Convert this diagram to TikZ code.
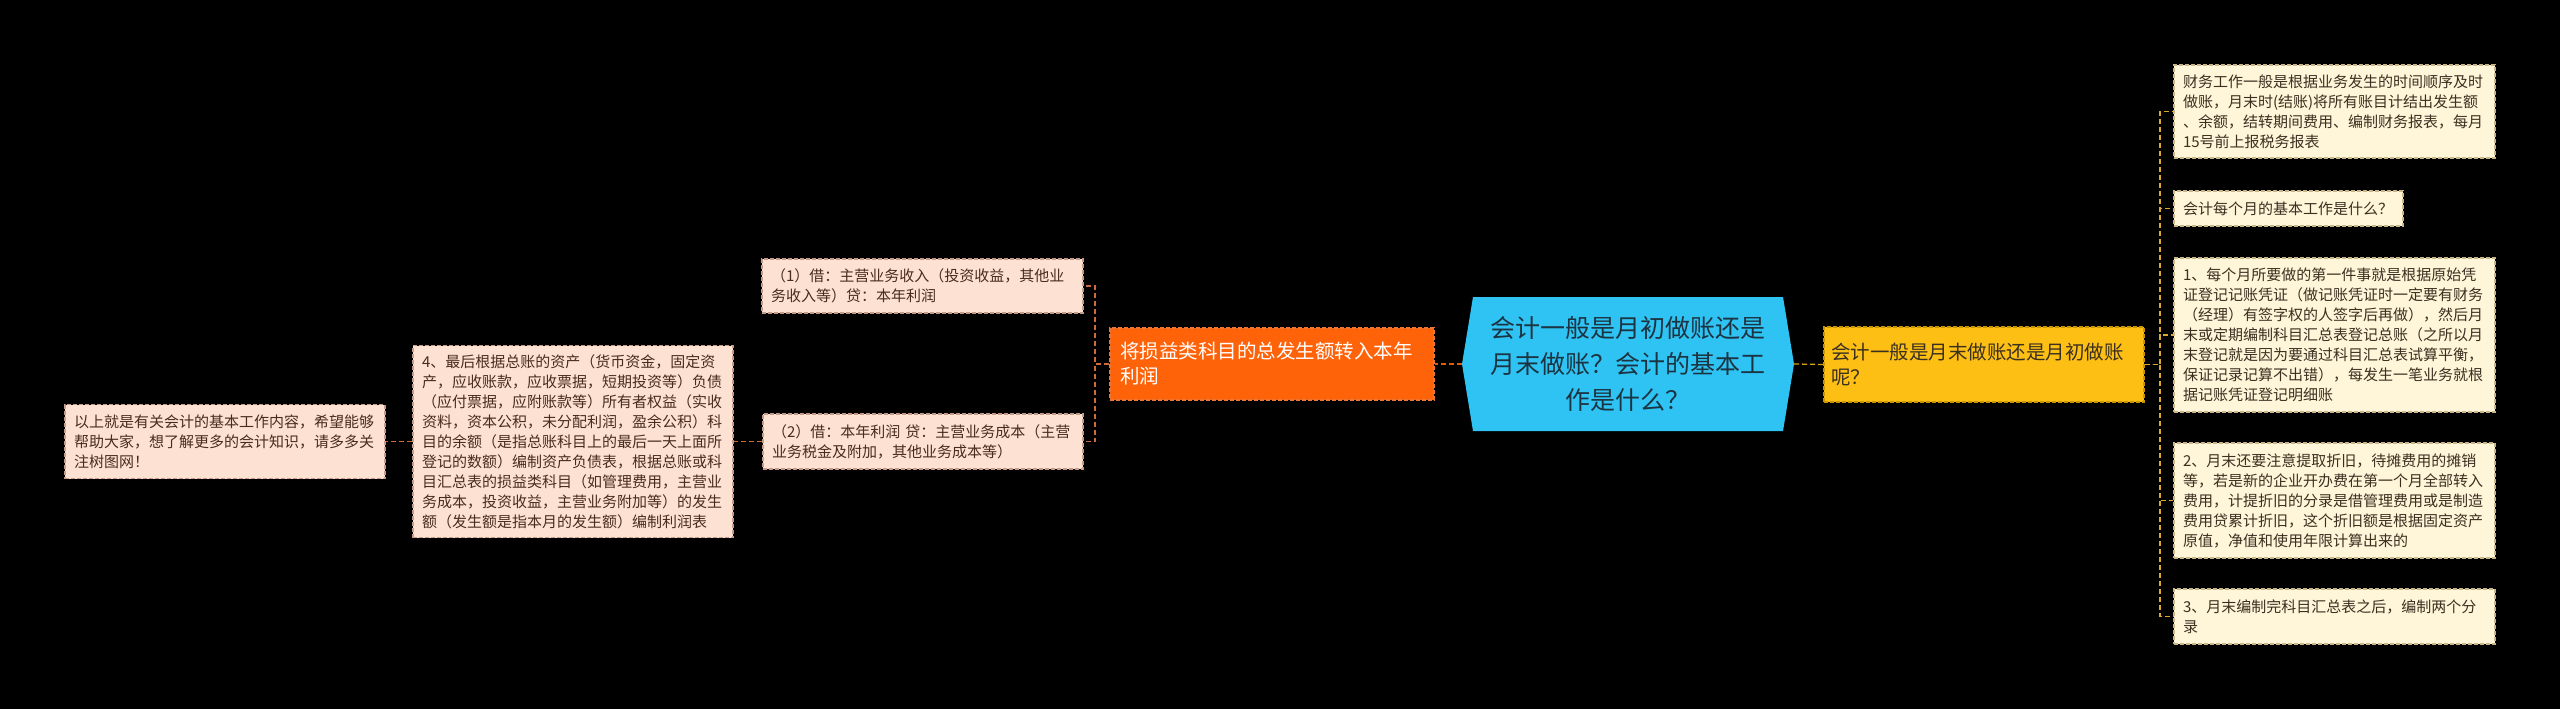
\documentclass[tikz,border=0pt]{standalone}
\usepackage{fontspec}
\setmainfont{Noto Sans CJK SC}
\definecolor{bgc}{HTML}{000000}
\definecolor{rfill}{HTML}{FFF5D9}
\definecolor{rborder}{HTML}{C8B689}
\definecolor{rtext}{HTML}{3A3020}
\definecolor{yline}{HTML}{D9A92E}
\definecolor{lfill}{HTML}{FDE2D4}
\definecolor{lborder}{HTML}{C49A88}
\definecolor{ltext}{HTML}{4A2C1E}
\definecolor{oline}{HTML}{CF6A3A}
\definecolor{ofill}{HTML}{FF630A}
\definecolor{oborder}{HTML}{E8783A}
\definecolor{yfill}{HTML}{FDBF14}
\definecolor{yborder}{HTML}{C99600}
\definecolor{bfill}{HTML}{2FC3F3}
\definecolor{btext}{HTML}{1C3442}
\tikzset{
  x=1pt, y=-1pt,
  box/.style={rectangle, inner xsep=9pt, inner ysep=0pt, align=left,
    line width=1.2pt, dash pattern=on 4pt off 2pt,
    font=\fontsize{15}{20}\selectfont},
  rbox/.style={box, fill=rfill, draw=rborder, text=rtext},
  lbox/.style={box, fill=lfill, draw=lborder, text=ltext},
  yconn/.style={draw=yline, line width=1.3pt, dash pattern=on 5pt off 3pt},
  oconn/.style={draw=oline, line width=1.3pt, dash pattern=on 5pt off 3pt},
}
\begin{document}
\begin{tikzpicture}
\fill[bgc] (0,0) rectangle (2560,709);
\useasboundingbox (0,0) rectangle (2560,709);

% central node
\fill[bfill] (1462,364) -- (1473,297) -- (1783,297) -- (1794,364) -- (1783,431) -- (1473,431) -- cycle;
\node[minimum width=332pt, minimum height=134pt, inner sep=0pt, align=center, text=btext,
  font=\fontsize{25}{36}\selectfont] (c) at (1628,364)
  {会计一般是月初做账还是\\月末做账？会计的基本工\\作是什么？};

% yellow node
\node[box, fill=yfill, draw=yborder, text=rtext, inner xsep=7pt, text width=306pt,
  minimum height=75pt, font=\fontsize{19.5}{25}\selectfont] (y) at (1984,364.5)
  {会计一般是月末做账还是月初做账\\呢？};

% orange node
\node[box, fill=ofill, draw=oborder, text=white, inner xsep=10pt, text width=304pt,
  minimum height=72pt, font=\fontsize{19.5}{25}\selectfont] (o) at (1272,364)
  {将损益类科目的总发生额转入本年\\利润};

% right nodes
\node[rbox, text width=303pt, minimum height=93pt] (r1) at (2334.5,111.5)
  {财务工作一般是根据业务发生的时间顺序及时\\做账，月末时(结账)将所有账目计结出发生额\\、余额，结转期间费用、编制财务报表，每月\\15号前上报税务报表};
\node[rbox, text width=211pt, minimum height=35pt] (r2) at (2288.5,208.5)
  {会计每个月的基本工作是什么？};
\node[rbox, text width=303pt, minimum height=154pt] (r3) at (2334.5,335)
  {1、每个月所要做的第一件事就是根据原始凭\\证登记记账凭证（做记账凭证时一定要有财务\\（经理）有签字权的人签字后再做），然后月\\末或定期编制科目汇总表登记总账（之所以月\\末登记就是因为要通过科目汇总表试算平衡，\\保证记录记算不出错），每发生一笔业务就根\\据记账凭证登记明细账};
\node[rbox, text width=303pt, minimum height=115pt] (r4) at (2334.5,500.5)
  {2、月末还要注意提取折旧，待摊费用的摊销\\等，若是新的企业开办费在第一个月全部转入\\费用，计提折旧的分录是借管理费用或是制造\\费用贷累计折旧，这个折旧额是根据固定资产\\原值，净值和使用年限计算出来的};
\node[rbox, text width=303pt, minimum height=55pt] (r5) at (2334.5,616.5)
  {3、月末编制完科目汇总表之后，编制两个分\\录};

% left nodes
\node[lbox, text width=303pt, minimum height=54pt] (l1) at (922.5,286)
  {（1）借：主营业务收入（投资收益，其他业\\务收入等）贷：本年利润};
\node[lbox, text width=302pt, minimum height=55pt] (l2) at (923,441.5)
  {（2）借：本年利润 贷：主营业务成本（主营\\业务税金及附加，其他业务成本等）};
\node[lbox, text width=302pt, minimum height=192pt] (l4) at (573,441.5)
  {4、最后根据总账的资产（货币资金，固定资\\产，应收账款，应收票据，短期投资等）负债\\（应付票据，应附账款等）所有者权益（实收\\资料，资本公积，未分配利润，盈余公积）科\\目的余额（是指总账科目上的最后一天上面所\\登记的数额）编制资产负债表，根据总账或科\\目汇总表的损益类科目（如管理费用，主营业\\务成本，投资收益，主营业务附加等）的发生\\额（发生额是指本月的发生额）编制利润表};
\node[lbox, text width=302pt, minimum height=74pt] (l0) at (225,441.5)
  {以上就是有关会计的基本工作内容，希望能够\\帮助大家，想了解更多的会计知识，请多多关\\注树图网！};

% connectors
\draw[yconn, draw=yfill!85!black] (c.east) -- (y.west);
\coordinate (yb) at (2160,364.5);
\foreach \t in {r1,r2,r3,r4,r5}
  \draw[yconn] (y.east) -- (yb) |- (\t.west);
\draw[oconn, draw=ofill!90!black] (c.west) -- (o.east);
\coordinate (ob) at (1095,364);
\foreach \t in {l1,l2}
  \draw[oconn] (o.west) -- (ob) |- (\t.east);
\draw[oconn] (l2.west) -- (l4.east);
\draw[oconn] (l4.west) -- (l0.east);
\end{tikzpicture}
\end{document}
